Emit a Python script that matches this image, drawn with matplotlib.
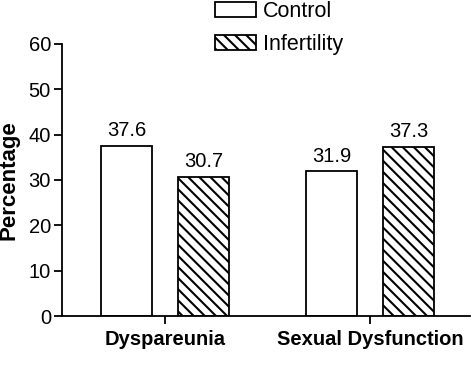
import matplotlib
matplotlib.use('Agg')
import matplotlib.pyplot as plt
import numpy as np

categories = ["Dyspareunia", "Sexual Dysfunction"]
control = [37.6, 31.9]
infertility = [30.7, 37.3]

plt.rcParams['font.family'] = ['Liberation Sans', 'DejaVu Sans']
plt.rcParams['hatch.linewidth'] = 1.5

fig = plt.figure(figsize=(4.74, 3.66), dpi=100)
ax = fig.add_axes([62/474, 50/366, 408/474, 272/366])

x = np.arange(len(categories))
w = 0.249
off = 0.188
b1 = ax.bar(x - off, control, w, color='white', edgecolor='black', linewidth=1.3, label='Control')
b2 = ax.bar(x + off, infertility, w, color='white', edgecolor='black', linewidth=1.3,
            hatch='\\\\\\', label='Infertility')

for bars, vals in [(b1, control), (b2, infertility)]:
    for r, v in zip(bars, vals):
        ax.text(r.get_x() + r.get_width()/2, v + 1.2, f"{v:.1f}", ha='center', va='bottom', fontsize=14.5)

ax.set_xlim(-0.502, 1.488)
ax.set_ylim(0, 60)
ax.set_yticks(range(0, 61, 10))
ax.set_xticks(x)
ax.set_xticklabels(categories, fontsize=14.5, fontweight='bold')
ax.tick_params(axis='y', labelsize=14.5, length=6, width=1.3, pad=2)
ax.tick_params(axis='x', length=6, width=1.3, pad=4)
ax.set_ylabel("Percentage", fontsize=16, fontweight='bold')
ax.yaxis.set_label_coords(-0.103, 0.5)
for s in ['top', 'right']:
    ax.spines[s].set_visible(False)
for s in ['left', 'bottom']:
    ax.spines[s].set_linewidth(1.3)

fig.legend(handles=[b1, b2], loc='upper left', bbox_to_anchor=(213/474, 1 + 1/366),
           frameon=False, fontsize=15.5, handlelength=1.9, handleheight=0.7,
           handletextpad=0.3, labelspacing=0.55, borderaxespad=0, borderpad=0.1)

fig.savefig("out.png", dpi=100)
